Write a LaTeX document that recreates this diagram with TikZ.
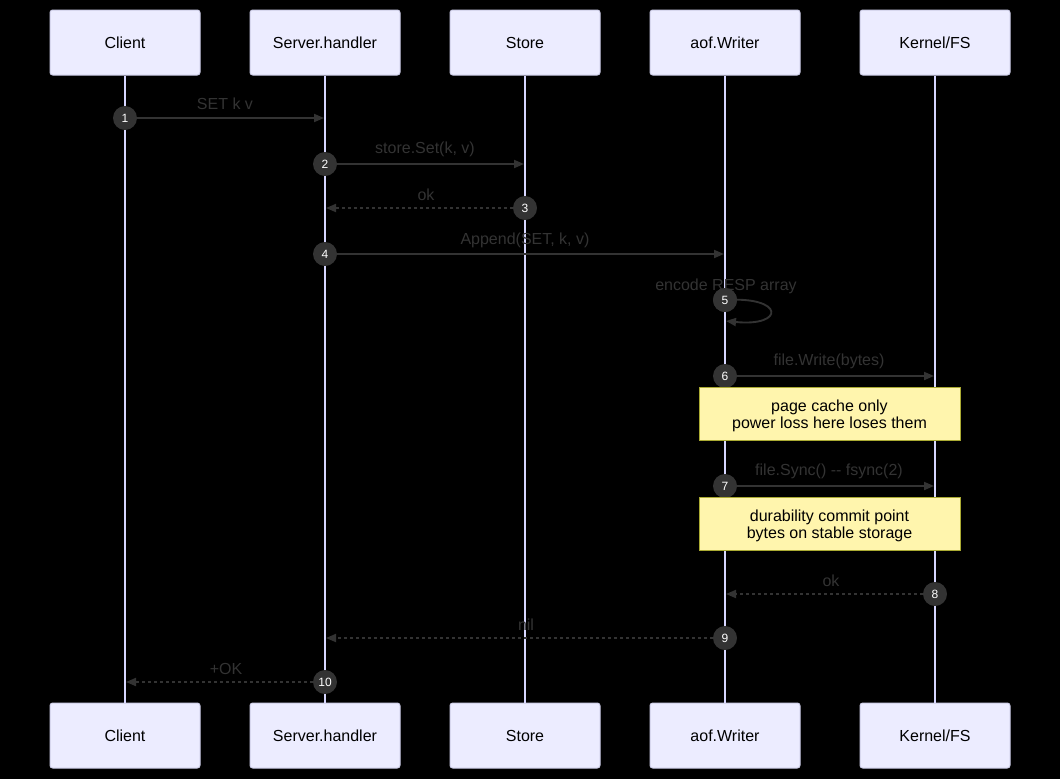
\documentclass[tikz,border=0pt]{standalone}
\usepackage{fontspec}
\setmainfont{Liberation Sans}
\usetikzlibrary{arrows.meta}
\definecolor{ActorBG}{RGB}{236,236,255}
\definecolor{ActorRule}{RGB}{204,204,230}
\definecolor{LifeLine}{RGB}{214,214,255}
\definecolor{MsgGray}{RGB}{51,51,51}
\definecolor{NoteBG}{RGB}{255,245,173}
\definecolor{NoteRule}{RGB}{170,170,51}

\begin{document}
\begin{tikzpicture}[
  x=0.75pt, y=-0.75pt,
  every node/.style={font=\fontsize{12}{14}\selectfont},
  actor/.style={draw=ActorRule, fill=ActorBG, rounded corners=2pt, line width=0.75pt,
                minimum width=112.5pt, minimum height=48.75pt, text=black},
  life/.style={draw=LifeLine, line width=1.2pt},
  msg/.style={draw=MsgGray, line width=1.4pt, -{Triangle[length=7.5pt,width=6pt]}},
  reply/.style={msg, dash pattern=on 2.25pt off 2.25pt},
  seq/.style={circle, fill=MsgGray, inner sep=0pt, minimum size=18pt, text=white,
              font=\fontsize{9}{10}\selectfont},
  lbl/.style={text=MsgGray},
  note/.style={draw=NoteRule, fill=NoteBG, line width=0.75pt, minimum width=195.75pt,
               minimum height=39.75pt},
  notetext/.style={align=center, text=black, font=\fontsize{12}{12.75}\selectfont}
]
\fill[black] (0,0) rectangle (1060,779);

% actors, top and bottom
\node[actor] (cl)  at (125,42.5)  {Client};
\node[actor] (sh)  at (325,42.5)  {Server.handler};
\node[actor] (st)  at (525,42.5)  {Store};
\node[actor] (aw)  at (725,42.5)  {aof.Writer};
\node[actor] (kf)  at (935,42.5)  {Kernel/FS};
\node[actor] (clb) at (125,735.5) {Client};
\node[actor] (shb) at (325,735.5) {Server.handler};
\node[actor] (stb) at (525,735.5) {Store};
\node[actor] (awb) at (725,735.5) {aof.Writer};
\node[actor] (kfb) at (935,735.5) {Kernel/FS};

% lifelines
\draw[life] (cl) -- (clb);
\draw[life] (sh) -- (shb);
\draw[life] (st) -- (stb);
\draw[life] (aw) -- (awb);
\draw[life] (kf) -- (kfb);

% message ends
\coordinate (t1) at (324,118);
\coordinate (t2) at (524,164);
\coordinate (t3) at (326,208);
\coordinate (t4) at (724,254);
\coordinate (s5a) at (725,300);
\coordinate (s5b) at (726,321);
\coordinate (t6) at (934,376);
\coordinate (t7) at (934,486);
\coordinate (t8) at (726,594);
\coordinate (t9) at (326,638);
\coordinate (t10) at (126,682);

% sequence numbers
\node[seq] (n1)  at (125,118) {1};
\node[seq] (n2)  at (325,164) {2};
\node[seq] (n3)  at (525,208) {3};
\node[seq] (n4)  at (325,254) {4};
\node[seq] (n5)  at (725,300) {5};
\node[seq] (n6)  at (725,376) {6};
\node[seq] (n7)  at (725,486) {7};
\node[seq] (n8)  at (935,594) {8};
\node[seq] (n9)  at (725,638) {9};
\node[seq] (n10) at (325,682) {10};

% messages
\draw[msg]   (n1) -- (t1);
\draw[msg]   (n2) -- (t2);
\draw[reply] (n3) -- (t3);
\draw[msg]   (n4) -- (t4);
\draw[msg]   (s5a) .. controls (785,296) and (785,327) .. (s5b);
\draw[msg]   (n6) -- (t6);
\draw[msg]   (n7) -- (t7);
\draw[reply] (n8) -- (t8);
\draw[reply] (n9) -- (t9);
\draw[reply] (n10) -- (t10);
\node[seq] at (n5) {5};

% labels
\node[lbl] (l1)  at (225,104) {SET k v};
\node[lbl] (l2)  at (425,149) {store.Set(k, v)};
\node[lbl] (l3)  at (426,195) {ok};
\node[lbl] (l4)  at (525,240) {Append(SET, k, v)};
\node[lbl] (l5)  at (726,286) {encode RESP array};
\node[lbl] (l6)  at (829,361) {file.Write(bytes)};
\node[lbl] (l7)  at (829,471) {file.Sync() {-}{-} fsync(2)};
\node[lbl] (l8)  at (831,581) {ok};
\node[lbl] (l9)  at (526,625) {nil};
\node[lbl] (l10) at (226,669) {+OK};

% notes
\node[note] (pc) at (829.5,413.5) {};
\node[notetext] (pct) at (829.5,416) {page cache only\\power loss here loses them};
\node[note] (dc) at (829.5,523.5) {};
\node[notetext] (dct) at (829.5,526) {durability commit point\\bytes on stable storage};
\end{tikzpicture}
\end{document}
